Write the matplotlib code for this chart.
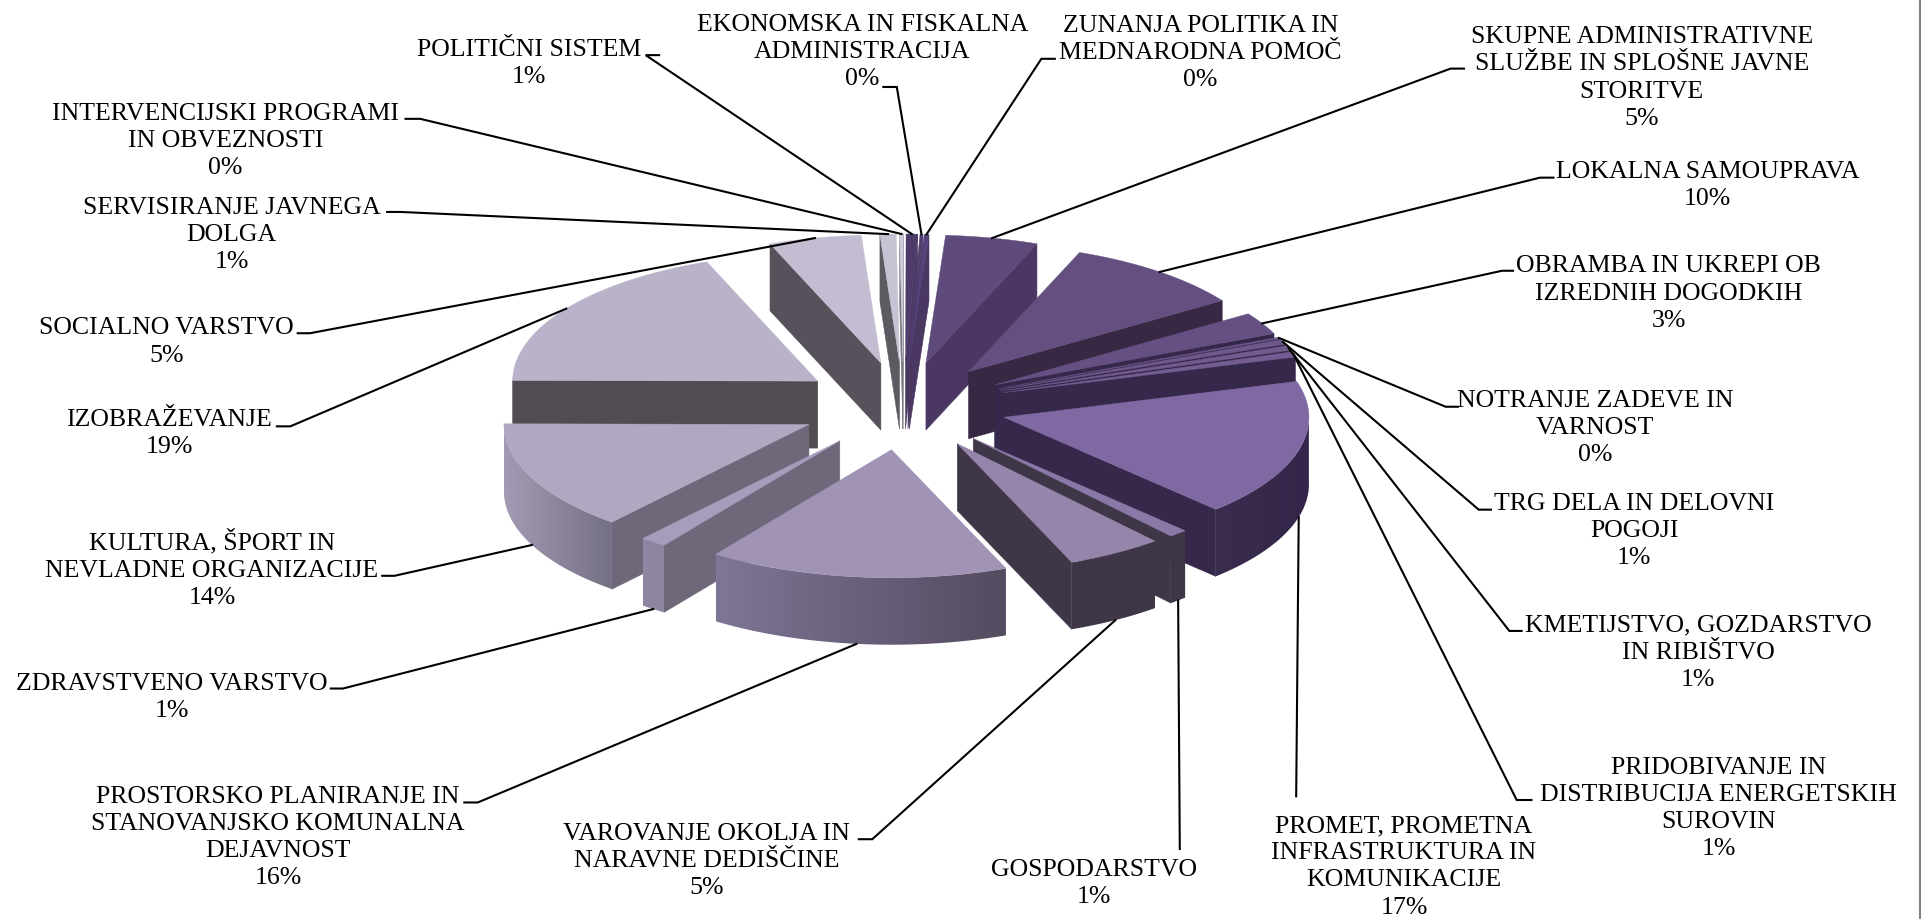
"""Exploded 3D-look pie chart of budget shares, drawn on a pixel-sized axes."""

import numpy as np
import matplotlib
matplotlib.use("Agg")
import matplotlib.pyplot as plt
import matplotlib.colors as mcolors
from matplotlib.patches import Polygon

# --- Data ---

categories = [
    "SKUPNE ADMINISTRATIVNE\nSLUŽBE IN SPLOŠNE JAVNE\nSTORITVE",
    "LOKALNA SAMOUPRAVA",
    "OBRAMBA IN UKREPI OB\nIZREDNIH DOGODKIH",
    "NOTRANJE ZADEVE IN\nVARNOST",
    "TRG DELA IN DELOVNI\nPOGOJI",
    "KMETIJSTVO, GOZDARSTVO\nIN RIBIŠTVO",
    "PRIDOBIVANJE IN\nDISTRIBUCIJA ENERGETSKIH\nSUROVIN",
    "PROMET, PROMETNA\nINFRASTRUKTURA IN\nKOMUNIKACIJE",
    "GOSPODARSTVO",
    "VAROVANJE OKOLJA IN\nNARAVNE DEDIŠČINE",
    "PROSTORSKO PLANIRANJE IN\nSTANOVANJSKO KOMUNALNA\nDEJAVNOST",
    "ZDRAVSTVENO VARSTVO",
    "KULTURA, ŠPORT IN\nNEVLADNE ORGANIZACIJE",
    "IZOBRAŽEVANJE",
    "SOCIALNO VARSTVO",
    "SERVISIRANJE JAVNEGA\nDOLGA",
    "INTERVENCIJSKI PROGRAMI\nIN OBVEZNOSTI",
    "POLITIČNI SISTEM",
    "EKONOMSKA IN FISKALNA\nADMINISTRACIJA",
    "ZUNANJA POLITIKA IN\nMEDNARODNA POMOČ",
]
percent_labels = ["5%", "10%", "3%", "0%", "1%", "1%", "1%", "17%", "1%", "5%",
                  "16%", "1%", "14%", "19%", "5%", "1%", "0%", "1%", "0%", "0%"]
# shares, the rounded labels hide the small ones
shares = [4.9, 9.7, 2.8, 0.2, 0.6, 0.6, 0.65, 17.3, 1.0, 5.1,
          15.9, 1.4, 13.9, 19.0, 4.9, 0.85, 0.2, 0.6, 0.15, 0.25]

top_colors = ["#5f4a7c", "#644f80", "#665083", "#6b5488", "#6d578b", "#705a8e", "#735d92",
              "#8069a2", "#8a78a6", "#9585ab", "#a093b5", "#a79cbb", "#b0a7c0", "#b9b2c9",
              "#c4bdd2", "#c8c2d5", "#d0cbda", "#4d3b6c", "#503e6f", "#54427a"]
wall_colors = ["#4a3862", "#372843", "#36284a", "#36284a", "#36284a", "#36284a", "#36284a",
               "#35284a", "#3f3648", "#3f3648", "#6f677a", "#6f677a", "#6f677a", "#514b52",
               "#56515a", "#5e5a62", "#7a7680", "#4a3862", "#4a3862", "#4a3862"]
rim_left = ["#4a3862", "#372843", "#36284a", "#36284a", "#36284a", "#36284a", "#36284a",
            "#3a2c4e", "#3f3648", "#3f3648", "#7f7596", "#8f85a2", "#a39bb3", "#514b52",
            "#56515a", "#5e5a62", "#7a7680", "#4a3862", "#4a3862", "#4a3862"]
rim_right = ["#4a3862", "#372843", "#36284a", "#36284a", "#36284a", "#36284a", "#36284a",
             "#33264a", "#3f3648", "#3f3648", "#544b60", "#8f85a2", "#767085", "#514b52",
             "#56515a", "#5e5a62", "#7a7680", "#4a3862", "#4a3862", "#4a3862"]

# --- Layout, in pixels of the 1568 wide preview ---

SCALE = 1921 / 1568
label_x = [1340, 1394, 1362, 1302, 1334, 1386, 1403, 1146, 893, 577,
           227, 140, 173, 138, 136, 189, 184, 432, 704, 980]
label_y = [62, 149.5, 238, 348, 432, 531, 658.5, 706, 719.5, 701,
           682, 567.5, 463, 352.5, 277.5, 190, 113.5, 50.5, 41, 41.5]
elbow_x = [1184, 1257, 1226, 1180, 1207, 1232, 1238, 1058, 963, 712,
           390, 280, 322, 237, 253, 327, 343, 527, 732, 850]
elbow_y = [56, 145, 221, 332, 416, 515, 653, 650, 693, 685,
           655, 562, 470, 348, 272, 173, 97, 45, 71, 48]
tail_x = [1195, 1268, 1235, 1190, 1217, 1242, 1250, 1058, 963, 701,
          379, 270, 312, 226, 243, 316, 331, 538, 721, 861]

START_ANGLE = 3.7
CENTER_X, CENTER_Y = 903.4, 406.0
RADIUS_X, RADIUS_Y = 305.0, 128.0
EXPLODE_X, EXPLODE_Y = 104.0, 44.0
DEPTH = 67.0


def rim_point(tip, angle):
    return tip[0] + RADIUS_X * np.sin(angle), tip[1] - RADIUS_Y * np.cos(angle)


def draw_slice(ax, a1, a2, top, wall, left, right, z):
    mid = (a1 + a2) / 2
    tip = (CENTER_X + EXPLODE_X * np.sin(mid), CENTER_Y - EXPLODE_Y * np.cos(mid))
    angles = np.linspace(a1, a2, max(int(np.degrees(a2 - a1) * 2), 3))
    arc = np.column_stack(rim_point(tip, angles))

    # side walls, only those facing the viewer
    for angle, visible in ((a1, np.sin(a1) < 0), (a2, np.sin(a2) > 0)):
        if visible:
            x, y = rim_point(tip, angle)
            pts = [tip, (x, y), (x, y + DEPTH), (tip[0], tip[1] + DEPTH)]
            ax.add_patch(Polygon(pts, closed=True, fc=wall, ec=wall, lw=0.4, zorder=z))

    # outer wall, an image clipped to the rim so it can carry a left to right gradient
    front = np.cos(angles) < 0.02
    if front.sum() >= 2:
        fa = arc[front]
        x0, x1 = fa[:, 0].min(), fa[:, 0].max()
        y0, y1 = fa[:, 1].min(), fa[:, 1].max() + DEPTH
        cmap = mcolors.LinearSegmentedColormap.from_list("rim", [left, right])
        shade = cmap(np.linspace(0, 1, 64)).reshape(1, 64, 4)
        im = ax.imshow(shade, extent=[x0, x1, y1, y0], aspect="auto",
                       interpolation="bilinear", zorder=z + 0.001)
        rim = np.vstack([fa, (fa + [0, DEPTH])[::-1]])
        im.set_clip_path(Polygon(rim, closed=True, transform=ax.transData))

    ax.add_patch(Polygon(np.vstack([tip, arc]), closed=True, fc=top, ec=top, lw=0.3, zorder=z + 0.002))
    return tip, mid


fig, ax = plt.subplots(figsize=(19.21, 9.19), dpi=100)
ax.set_position([0, 0, 1, 1])
ax.set_xlim(0, 1921)
ax.set_ylim(919, 0)
ax.autoscale(False)
ax.axis("off")

edges = np.radians(START_ANGLE) + np.concatenate([[0], np.cumsum(shares)]) / np.sum(shares) * 2 * np.pi
mids = (edges[:-1] + edges[1:]) / 2

# back slices first
tips = {}
for k, i in enumerate(np.argsort(-np.cos(mids), kind="stable")):
    tips[i] = draw_slice(ax, edges[i], edges[i + 1], top_colors[i], wall_colors[i],
                         rim_left[i], rim_right[i], 1 + k * 0.01)

# --- Labels with their leader lines ---

for i, name in enumerate(categories):
    tip, mid = tips[i]
    x, y = rim_point(tip, mid)
    if np.cos(mid) < 0:
        y += DEPTH
    ax.plot([x, elbow_x[i] * SCALE, tail_x[i] * SCALE],
            [y, elbow_y[i] * SCALE, elbow_y[i] * SCALE],
            color="black", lw=1.5, solid_joinstyle="miter", zorder=5)
    ax.text(label_x[i] * SCALE, label_y[i] * SCALE + 2, name + "\n" + percent_labels[i],
            family="Liberation Serif", fontsize=18.6, ha="center", va="center",
            multialignment="center", linespacing=1.3, color="black", zorder=6)

# thin frame line on the right edge
ax.plot([1920, 1920], [0, 919], color="#808080", lw=1.5)

fig.savefig("out.png", dpi=100)
